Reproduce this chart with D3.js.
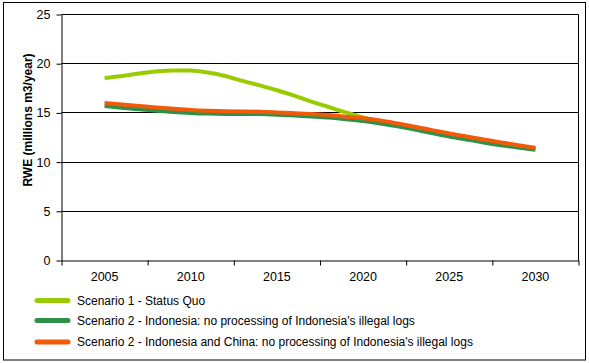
<!DOCTYPE html>
<html>
<head>
<meta charset="utf-8">
<script src="https://d3js.org/d3.v7.min.js"></script>
<style>
  body { margin: 0; background: #fff; }
  svg text { font-family: Arial, "Liberation Sans", sans-serif; fill: #000; }
</style>
</head>
<body>
<div id="chart"></div>
<script>
const categories = ["2005", "2010", "2015", "2020", "2025", "2030"];
const years = d3.range(2005, 2031);
const scenario1 = [18.55, 18.75, 19.0, 19.2, 19.3, 19.3, 19.1, 18.75, 18.25, 17.8, 17.3, 16.75, 16.15, 15.6, 15.05, 14.55,
                   14.1, 13.78, 13.45, 13.1, 12.75, 12.45, 12.15, 11.86, 11.6, 11.35];
const scenario2Indo = [15.7, 15.52, 15.37, 15.23, 15.1, 15.0, 14.93, 14.9, 14.9, 14.88, 14.82, 14.73, 14.63, 14.52, 14.36, 14.18,
                       13.93, 13.63, 13.3, 12.95, 12.6, 12.3, 12.0, 11.72, 11.48, 11.26];
const scenario2IndoChina = [16.0, 15.85, 15.7, 15.55, 15.42, 15.3, 15.22, 15.17, 15.15, 15.12, 15.05, 14.97, 14.88, 14.78, 14.62, 14.45,
                            14.22, 13.92, 13.6, 13.25, 12.9, 12.6, 12.3, 12.0, 11.72, 11.45];
const yTicks = [0, 5, 10, 15, 20, 25];
const seriesNames = [
  "Scenario 1 - Status Quo",
  "Scenario 2 - Indonesia: no processing of Indonesia's illegal logs",
  "Scenario 2 - Indonesia and China: no processing of Indonesia's illegal logs"
];
const colors = ["#99cc00", "#2e9148", "#f25a0a"];

const width = 589, height = 363;
const plotL = 61.5, plotR = 578.5, plotT = 14.5, plotB = 260.5;

const svg = d3.select("#chart").append("svg")
  .attr("width", width)
  .attr("height", height);

// outer frame
svg.append("rect")
  .attr("x", 3.5).attr("y", 2.5)
  .attr("width", 582).attr("height", 357.5)
  .attr("fill", "none").attr("stroke", "#000");

const xBand = d3.scaleBand().domain(categories).range([plotL, plotR]);
const bw = xBand.bandwidth();
const xYear = d3.scaleLinear().domain([2005, 2030])
  .range([xBand("2005") + bw / 2, xBand("2030") + bw / 2]);
const xEdge = d3.scaleLinear().domain([2002.5, 2032.5]).range([plotL, plotR]);
const y = d3.scaleLinear().domain([0, 25]).range([plotB, plotT]);

// gridlines
svg.append("g")
  .selectAll("line")
  .data(yTicks.filter(d => d > 0))
  .join("line")
  .attr("x1", plotL).attr("x2", plotR)
  .attr("y1", d => Math.round(y(d) - 0.5) + 0.5).attr("y2", d => Math.round(y(d) - 0.5) + 0.5)
  .attr("stroke", "#000");

// right side of plot area
svg.append("line")
  .attr("x1", plotR).attr("x2", plotR)
  .attr("y1", plotT).attr("y2", plotB)
  .attr("stroke", "#000");

// y axis
const yAxis = svg.append("g")
  .attr("transform", `translate(${plotL},0)`)
  .call(d3.axisLeft(y).tickValues(yTicks).tickSize(5).tickSizeOuter(0).tickPadding(6));
yAxis.select(".domain").attr("stroke", "#000");
yAxis.selectAll("text").attr("font-size", 12.5).attr("font-family", "Arial, 'Liberation Sans', sans-serif");

// x axis ticks at band edges
const xAxis = svg.append("g")
  .attr("transform", `translate(0,${plotB})`)
  .call(d3.axisBottom(xEdge).tickValues(d3.range(2002.5, 2033, 5)).tickSize(5).tickSizeOuter(0).tickFormat(""));
xAxis.select(".domain").attr("stroke", "#000");

// x labels at band centres
const xLabels = svg.append("g")
  .attr("transform", `translate(0,${plotB})`)
  .call(d3.axisBottom(xBand).tickSize(0).tickPadding(12));
xLabels.select(".domain").remove();
xLabels.selectAll("text").attr("font-size", 12.5).attr("font-family", "Arial, 'Liberation Sans', sans-serif");

// y title
svg.append("text")
  .attr("transform", "translate(31.5,120) rotate(-90)")
  .attr("text-anchor", "middle")
  .attr("font-size", 12)
  .attr("font-weight", "bold")
  .text("RWE (millions m3/year)");

// lines
const allSeries = [scenario1, scenario2Indo, scenario2IndoChina];
const line = d3.line()
  .x((d, i) => xYear(years[i]))
  .y(d => y(d))
  .curve(d3.curveMonotoneX);

svg.append("g")
  .selectAll("path")
  .data(allSeries)
  .join("path")
  .attr("d", line)
  .attr("fill", "none")
  .attr("stroke", (d, i) => colors[i])
  .attr("stroke-width", 4)
  .attr("stroke-linejoin", "round");

// legend
const legend = svg.append("g")
  .selectAll("g")
  .data(seriesNames)
  .join("g")
  .attr("transform", (d, i) => `translate(37,${[300.5, 320.5, 342][i]})`);
legend.append("line")
  .attr("x1", 0).attr("x2", 31)
  .attr("stroke", (d, i) => colors[i])
  .attr("stroke-width", 5)
  .attr("stroke-linecap", "round");
legend.append("text")
  .attr("x", 40).attr("dy", "0.35em")
  .attr("font-size", 12)
  .text(d => d);
</script>
</body>
</html>
